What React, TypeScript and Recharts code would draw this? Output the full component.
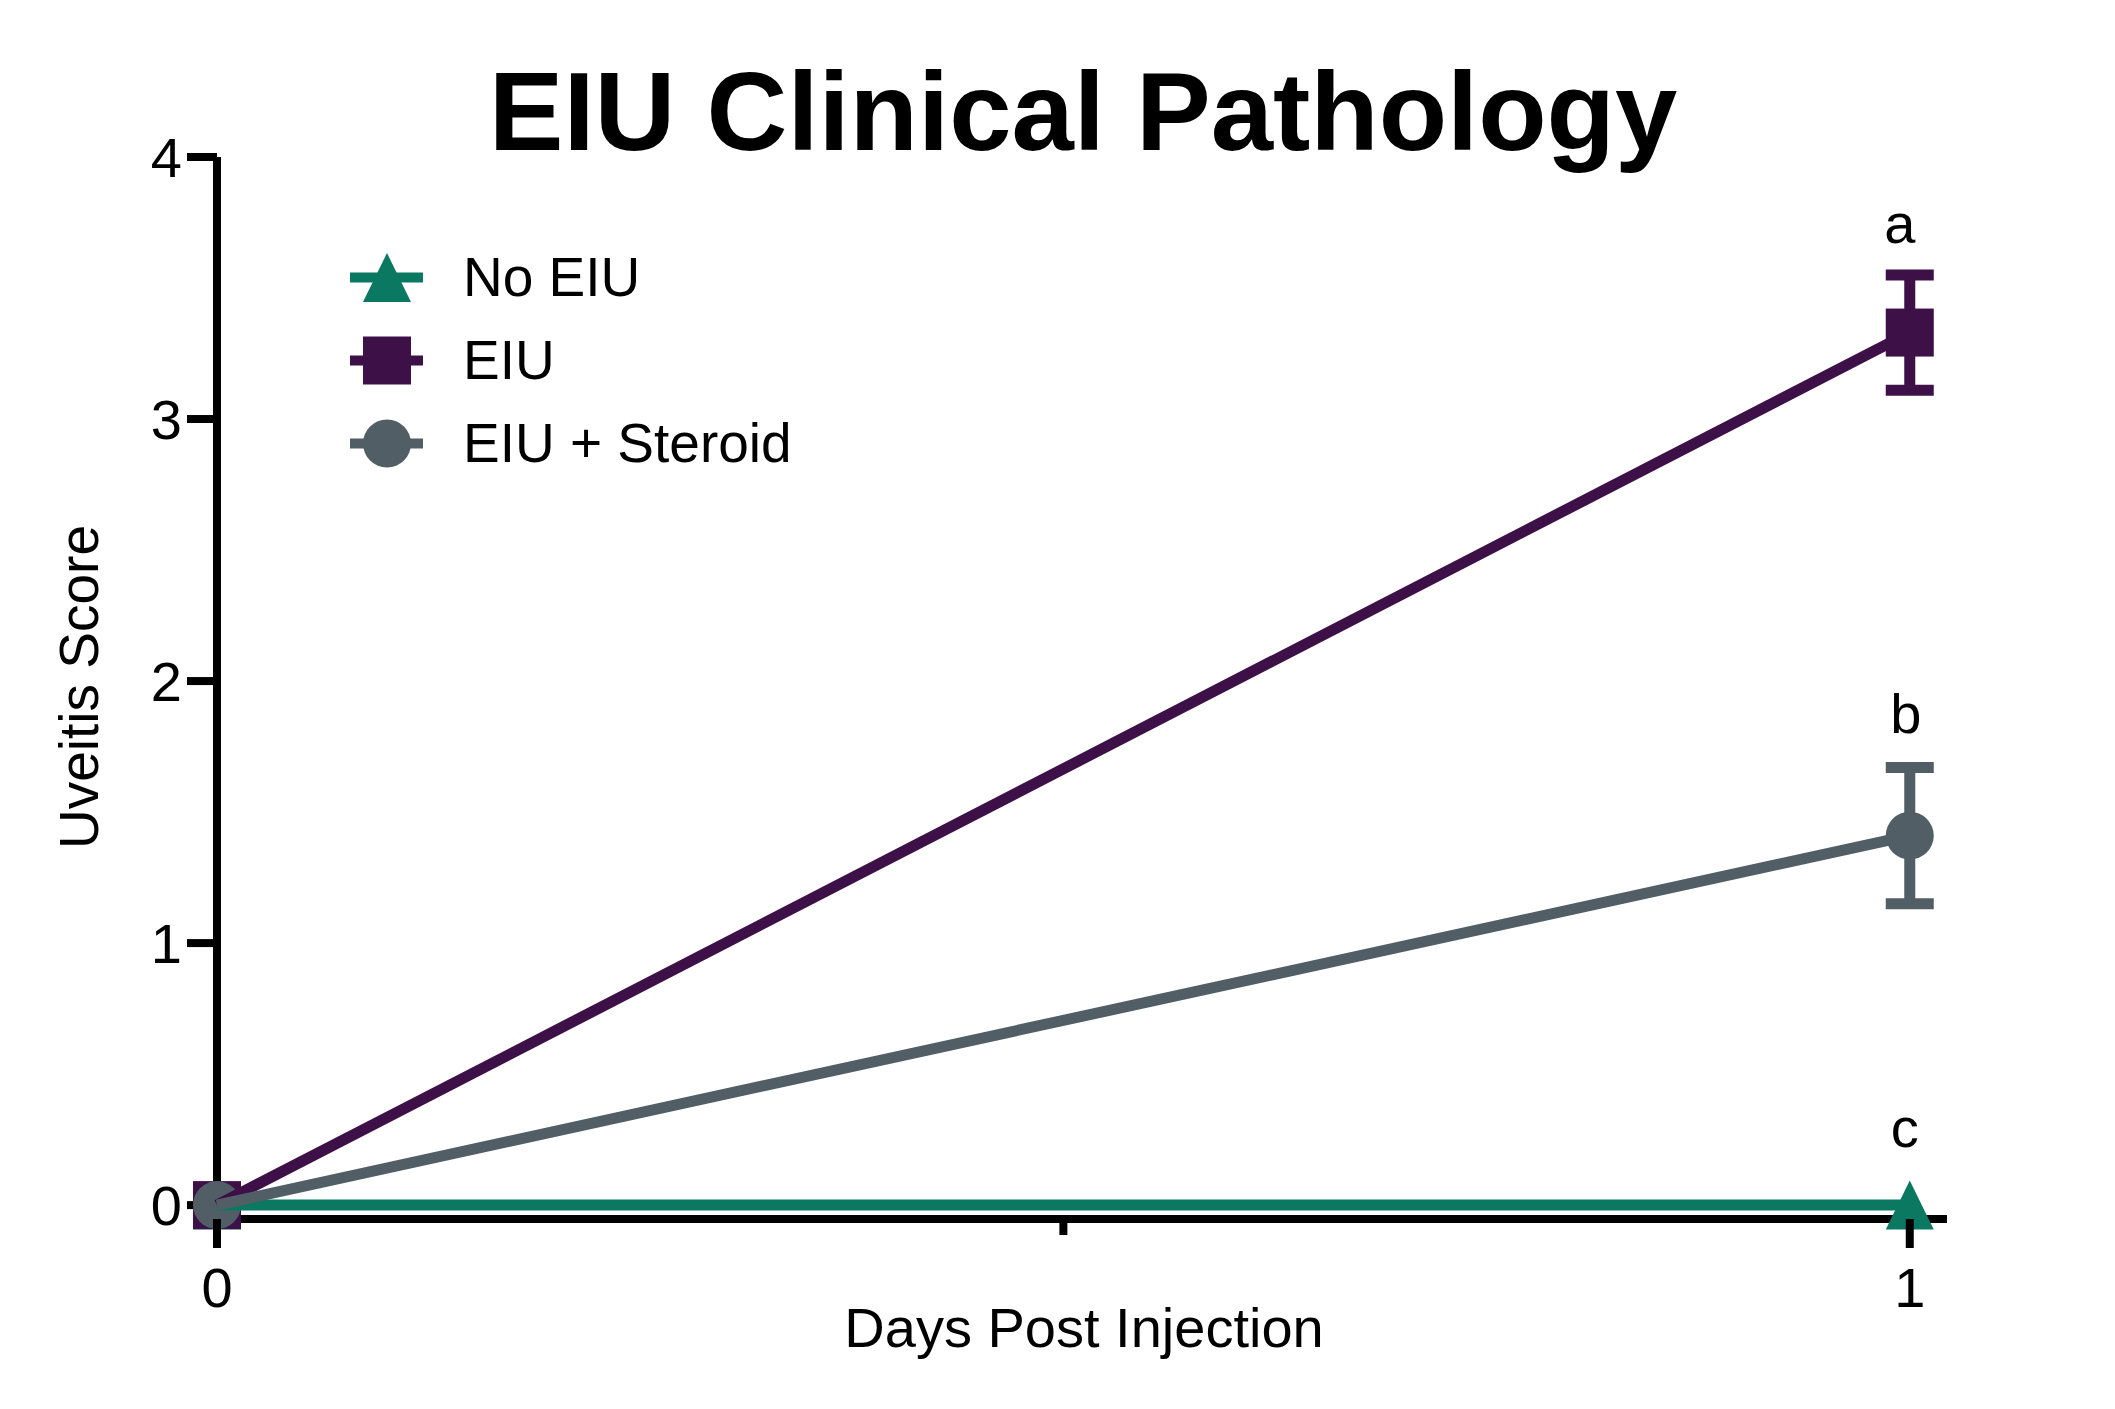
import React from 'react';
import { LineChart, Line, XAxis, YAxis, ErrorBar, ReferenceDot, Legend, Customized } from 'recharts';

// ---- data ----
const days = [0, 1];
const seriesNames = ['No EIU', 'EIU', 'EIU + Steroid'];
const noEiuScores = [0, 0];
const eiuScores = [0, 3.33];
const eiuErrors = [0, 0.22];
const steroidScores = [0, 1.41];
const steroidErrors = [0, 0.26];
const yTicks = [0, 1, 2, 3, 4];
const xTicks = [0, 0.5, 1];
const xTickLabels = ['0', '', '1'];
const groupLetters = ['c', 'a', 'b'];
const titleText = 'EIU Clinical Pathology';
const xLabelText = 'Days Post Injection';
const yLabelText = 'Uveitis Score';

const data = days.map((d, i) => ({
  day: d,
  noEiu: noEiuScores[i],
  eiu: eiuScores[i],
  eiuErr: eiuErrors[i],
  steroid: steroidScores[i],
  steroidErr: steroidErrors[i],
}));

// ---- style ----
const FONT = '"Liberation Sans", Arial, Helvetica, sans-serif';
const GREEN = '#0B7862';
const PURPLE = '#3E1048';
const GRAY = '#525E66';
const COLORS = [GREEN, PURPLE, GRAY];
const MS = 48; // marker size
const LW = 11;

const W = 2115;
const H = 1409;

function Marker({ kind, cx, cy, color }: { kind: number; cx: number; cy: number; color: string }) {
  const h = MS / 2;
  if (kind === 0) {
    return (
      <polygon
        points={`${cx},${cy - h - 0.5} ${cx - h},${cy + h + 0.5} ${cx + h},${cy + h + 0.5}`}
        fill={color}
      />
    );
  }
  if (kind === 1) {
    return <rect x={cx - h} y={cy - h} width={MS} height={MS} fill={color} />;
  }
  return <circle cx={cx} cy={cy} r={h} fill={color} />;
}

const makeDot = (kind: number) => (props: any) => {
  const { cx, cy, index } = props;
  if (cx == null || cy == null) return <g key={`e-${kind}-${index}`} />;
  return (
    <g key={`d-${kind}-${index}`}>
      <Marker kind={kind} cx={cx} cy={cy} color={COLORS[kind]} />
    </g>
  );
};

const XTick = (props: any) => {
  const { x, y, payload, index } = props;
  const len = payload.value === 0.5 ? 16 : 29;
  const label = xTickLabels[xTicks.indexOf(payload.value)] ?? '';
  return (
    <g key={`xt-${index}`}>
      <line x1={x} x2={x} y1={y} y2={y + len} stroke="#000" strokeWidth={8} />
      <text x={x} y={y + 48} dy="0.71em" textAnchor="middle" fontSize={56} fontFamily={FONT} fill="#000">
        {label}
      </text>
    </g>
  );
};

const LegendContent = () => (
  <svg width={700} height={260} style={{ overflow: 'visible' }}>
    {seriesNames.map((name, i) => {
      const cy = 37.5 + i * 83;
      const cx = 47;
      return (
        <g key={name}>
          <line x1={10} x2={83} y1={cy} y2={cy} stroke={COLORS[i]} strokeWidth={10} />
          <Marker kind={i} cx={cx} cy={cy} color={COLORS[i]} />
          <text x={123} y={cy + 18} fontSize={55} fontFamily={FONT} fill="#000">
            {name}
          </text>
        </g>
      );
    })}
  </svg>
);

const Texts = () => (
  <g>
    <text x={1083} y={150} textAnchor="middle" fontSize={112} fontWeight="bold" fontFamily={FONT} fill="#000">
      {titleText}
    </text>
    <text x={1084} y={1347} textAnchor="middle" fontSize={56} fontFamily={FONT} fill="#000">
      {xLabelText}
    </text>
    <text
      x={98}
      y={687}
      textAnchor="middle"
      fontSize={55}
      fontFamily={FONT}
      fill="#000"
      transform="rotate(-90, 98, 687)"
    >
      {yLabelText}
    </text>
  </g>
);

const annotTops = [
  noEiuScores[1],
  eiuScores[1] + eiuErrors[1],
  steroidScores[1] + steroidErrors[1],
];
const annotOffsets = [58, 32, 35];
const annotDx = [-5, -10, -4];

export default function App() {
  const lineZ: any = { zIndex: 700 };
  return (
    <div style={{ width: W, height: H, background: '#fff' }}>
      <style>{'body{margin:0;background:#fff}'}</style>
      <LineChart
        width={W}
        height={H}
        data={data}
        margin={{ top: 157, right: 168, bottom: 90, left: 117 }}
      >
        <XAxis
          dataKey="day"
          type="number"
          domain={[0, 1.022]}
          ticks={xTicks}
          interval={0}
          height={100}
          axisLine={{ stroke: '#000', strokeWidth: 8 }}
          tickLine={false}
          tickSize={0}
          tickMargin={0}
          tick={<XTick />}
        />
        <YAxis
          type="number"
          domain={[-0.053, 4]}
          ticks={yTicks}
          interval={0}
          width={100}
          axisLine={{ stroke: '#000', strokeWidth: 8 }}
          tickLine={{ stroke: '#000', strokeWidth: 8 }}
          tickSize={30}
          tickMargin={5}
          tick={{ fontSize: 56, fill: '#000', fontFamily: FONT }}
        />
        <Customized component={<Texts />} />
        <Line
          dataKey="noEiu"
          stroke={GREEN}
          strokeWidth={LW}
          dot={makeDot(0)}
          activeDot={false}
          isAnimationActive={false}
          {...lineZ}
        />
        <Line
          dataKey="eiu"
          stroke={PURPLE}
          strokeWidth={LW}
          dot={makeDot(1)}
          activeDot={false}
          isAnimationActive={false}
          {...lineZ}
        >
          <ErrorBar dataKey="eiuErr" direction="y" width={MS / 2} stroke={PURPLE} strokeWidth={LW} isAnimationActive={false} />
        </Line>
        <Line
          dataKey="steroid"
          stroke={GRAY}
          strokeWidth={LW}
          dot={makeDot(2)}
          activeDot={false}
          isAnimationActive={false}
          {...lineZ}
        >
          <ErrorBar dataKey="steroidErr" direction="y" width={MS / 2} stroke={GRAY} strokeWidth={LW} isAnimationActive={false} />
        </Line>
        {groupLetters.map((letter, i) => (
          <ReferenceDot
            key={letter}
            x={days[1]}
            y={annotTops[i]}
            r={0}
            fill="none"
            stroke="none"
            label={{ value: letter, position: 'top', offset: annotOffsets[i], dx: annotDx[i], fontSize: 56, fill: '#000', fontFamily: FONT }}
          />
        ))}
        <Legend
          layout="horizontal"
          verticalAlign="middle"
          align="center"
          content={<LegendContent />}
          wrapperStyle={{ position: 'absolute', left: 340, top: 240, width: 700, height: 260 }}
        />
      </LineChart>
    </div>
  );
}
